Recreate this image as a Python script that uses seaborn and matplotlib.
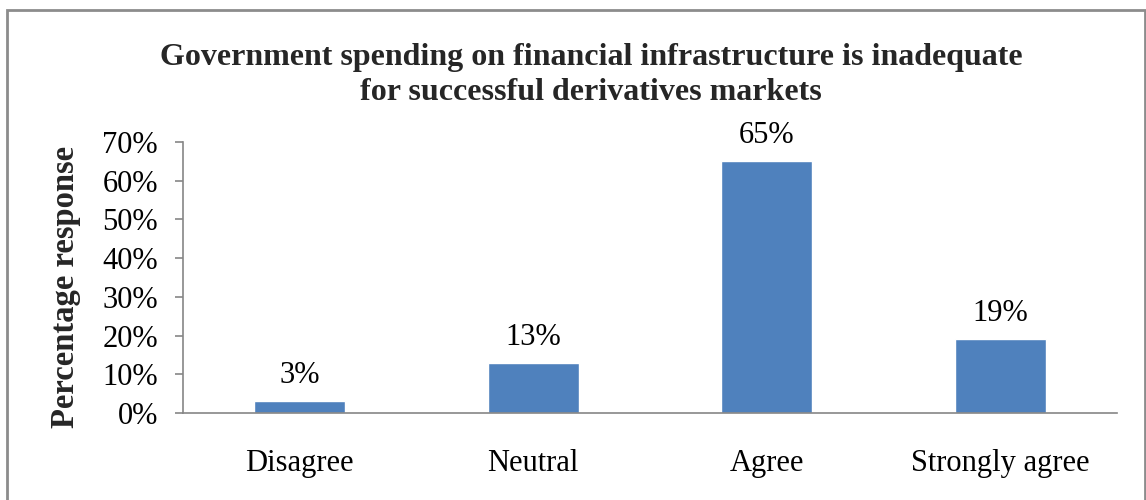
import matplotlib
matplotlib.use("Agg")
import matplotlib.pyplot as plt
import matplotlib.patches as mpatches
from matplotlib.ticker import PercentFormatter
import seaborn as sns
import pandas as pd

categories = ["Disagree", "Neutral", "Agree", "Strongly agree"]
responses = [3, 13, 65, 19]
y_ticks = [0, 10, 20, 30, 40, 50, 60, 70]

title_text = ("Government spending on financial infrastructure is inadequate\n"
              "for successful derivatives markets")
y_label = "Percentage response"

bar_color = "#4F81BD"
axis_color = "#868686"

sns.set_theme(style="white")
plt.rcParams["font.family"] = ["Liberation Serif", "DejaVu Serif"]

df = pd.DataFrame({"category": categories, "response": responses})

fig = plt.figure(figsize=(11.46, 5.0), dpi=100)
ax = fig.add_axes([183 / 1146, 1 - 413 / 500, (1117 - 183) / 1146, (413 - 142) / 500])

sns.barplot(data=df, x="category", y="response", color=bar_color,
            width=0.39, saturation=1, ax=ax)

ax.set_xlim(-0.5, len(categories) - 0.5)
ax.set_ylim(0, 70)
ax.set_yticks(y_ticks)
ax.yaxis.set_major_formatter(PercentFormatter(decimals=0))
ax.set_xlabel("")
ax.set_ylabel(y_label, fontsize=23.5, fontweight="bold")
ax.yaxis.set_label_coords(-0.109, 0.465)

for s in ["top", "right"]:
    ax.spines[s].set_visible(False)
for s in ["left", "bottom"]:
    ax.spines[s].set_color(axis_color)
    ax.spines[s].set_linewidth(1.2)

ax.tick_params(axis="y", which="major", left=True, length=6, width=1.2,
               color=axis_color, labelsize=22, pad=12, labelcolor="black")
ax.tick_params(axis="x", which="major", bottom=False, labelsize=22, pad=20,
               labelcolor="black")

for i, v in enumerate(responses):
    ax.annotate(f"{v}%", xy=(i, v), xytext=(0, 8), textcoords="offset points",
                ha="center", va="bottom", fontsize=22, color="black")

fig.text(591 / 1146, 1 - 75 / 500, title_text, ha="center", va="center",
         fontsize=23, fontweight="bold", linespacing=1.3)

# outer frame around the chart area
frame = mpatches.Rectangle((7 / 1146, -0.05), (1145 - 7) / 1146, 1.05 - 10 / 500,
                           transform=fig.transFigure, fill=False,
                           edgecolor="#8c8c8c", linewidth=2)
fig.add_artist(frame)

fig.savefig("out.png", dpi=100, facecolor="white")
